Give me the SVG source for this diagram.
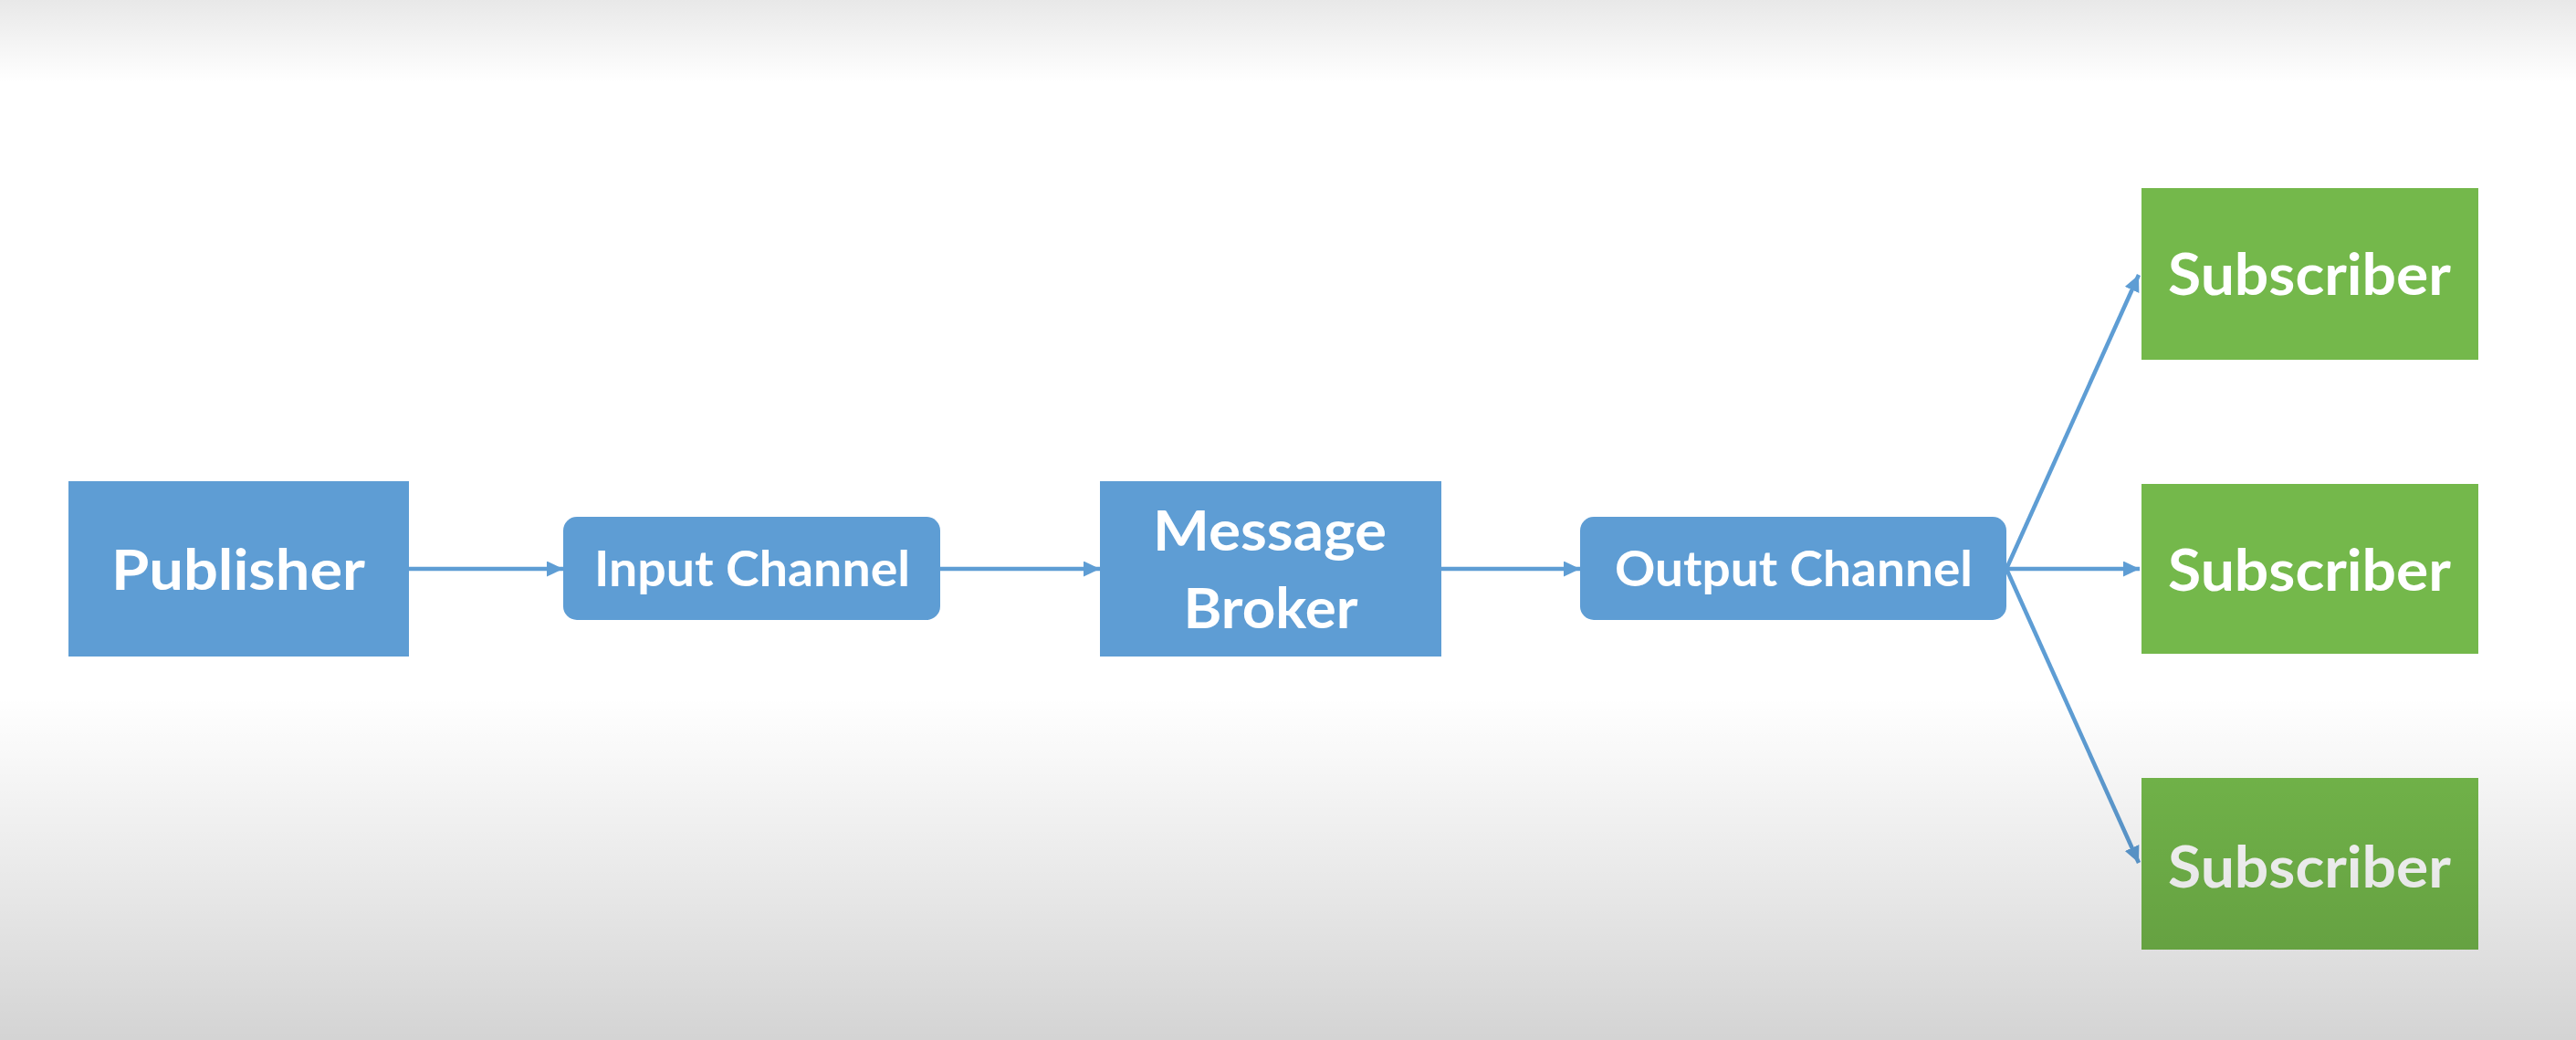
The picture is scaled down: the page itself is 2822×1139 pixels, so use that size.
<svg xmlns="http://www.w3.org/2000/svg" width="2822" height="1139" viewBox="0 0 2822 1139">
  <style>
    .blue { fill: #5E9DD4; }
    .green { fill: #74B84B; }
    .lbl { font-family: Lato, "Open Sans", "Liberation Sans", sans-serif; font-weight: bold; fill: #FFFFFF; text-anchor: middle; }
    .conn { stroke: #5E9DD4; stroke-width: 4.5; fill: none; }
  </style>
  <defs>
    <marker id="arrow" markerUnits="userSpaceOnUse" markerWidth="20" markerHeight="18" refX="18" refY="8.5" orient="auto">
      <path d="M0,0 L18,8.5 L0,17 Z" fill="#5E9DD4"/>
    </marker>
    <linearGradient id="shade" x1="0" y1="0" x2="0" y2="1">
      <stop offset="0" stop-color="#000" stop-opacity="0.09"/>
      <stop offset="0.08" stop-color="#000" stop-opacity="0"/>
      <stop offset="0.67" stop-color="#000" stop-opacity="0"/>
      <stop offset="0.85" stop-color="#000" stop-opacity="0.09"/>
      <stop offset="1" stop-color="#000" stop-opacity="0.17"/>
    </linearGradient>
  </defs>
  <rect x="0" y="0" width="2822" height="1139" fill="#FFFFFF"/>

  <g id="connectors">
    <path class="conn" d="M448,623 H617" marker-end="url(#arrow)"/>
    <path class="conn" d="M1030,623 H1205" marker-end="url(#arrow)"/>
    <path class="conn" d="M1579,623 H1731" marker-end="url(#arrow)"/>
    <path class="conn" d="M2198,623 L2343,301" marker-end="url(#arrow)"/>
    <path class="conn" d="M2198,623 H2344" marker-end="url(#arrow)"/>
    <path class="conn" d="M2198,623 L2343,945" marker-end="url(#arrow)"/>
  </g>

  <g id="publisher">
    <rect class="blue" x="75" y="527" width="373" height="192"/>
    <text class="lbl" x="261" y="646" font-size="61" textLength="278" lengthAdjust="spacingAndGlyphs">Publisher</text>
  </g>

  <g id="input-channel">
    <rect class="blue" x="617" y="566" width="413" height="113" rx="15" ry="15"/>
    <text class="lbl" x="824" y="642" font-size="53" textLength="346" lengthAdjust="spacingAndGlyphs">Input Channel</text>
  </g>

  <g id="message-broker">
    <rect class="blue" x="1205" y="527" width="374" height="192"/>
    <text class="lbl" x="1391" y="603" font-size="61" textLength="256" lengthAdjust="spacingAndGlyphs">Message</text>
    <text class="lbl" x="1392" y="688" font-size="61" textLength="191" lengthAdjust="spacingAndGlyphs">Broker</text>
  </g>

  <g id="output-channel">
    <rect class="blue" x="1731" y="566" width="467" height="113" rx="15" ry="15"/>
    <text class="lbl" x="1965" y="642" font-size="53" textLength="392" lengthAdjust="spacingAndGlyphs">Output Channel</text>
  </g>

  <g id="subscriber-1">
    <rect class="green" x="2346" y="206" width="369" height="188"/>
    <text class="lbl" x="2530" y="323" font-size="63" textLength="310" lengthAdjust="spacingAndGlyphs">Subscriber</text>
  </g>

  <g id="subscriber-2">
    <rect class="green" x="2346" y="530" width="369" height="186"/>
    <text class="lbl" x="2530" y="647" font-size="63" textLength="310" lengthAdjust="spacingAndGlyphs">Subscriber</text>
  </g>

  <g id="subscriber-3">
    <rect class="green" x="2346" y="852" width="369" height="188"/>
    <text class="lbl" x="2530" y="972" font-size="63" textLength="310" lengthAdjust="spacingAndGlyphs">Subscriber</text>
  </g>

  <rect x="0" y="0" width="2822" height="1139" fill="url(#shade)" pointer-events="none"/>
</svg>
